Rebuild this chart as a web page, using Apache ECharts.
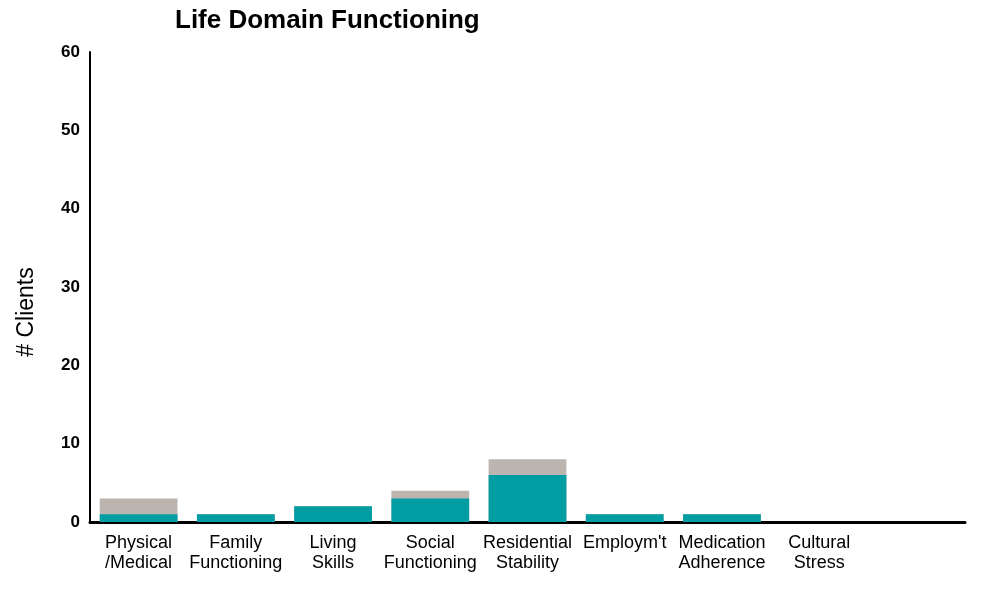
<!DOCTYPE html>
<html><head><meta charset="utf-8">
<script src="https://cdn.jsdelivr.net/npm/echarts@6/dist/echarts.min.js"></script>
<style>html,body{margin:0;padding:0;background:#fff}#c{width:982px;height:589px}</style>
</head><body><div id="c"></div>
<script>
var categories = ["Physical\n/Medical","Family\nFunctioning","Living\nSkills","Social\nFunctioning","Residential\nStability","Employm't","Medication\nAdherence","Cultural\nStress",""];
var totalValues = [3,1,2,4,8,1,1,0,null];
var tealValues = [1,1,2,3,6,1,1,0,null];
var yTicks = {min:0,max:60,interval:10};

var chart = echarts.init(document.getElementById('c'));
chart.setOption({
  animation:false,
  title:{text:'Life Domain Functioning',left:170,top:3,textStyle:{fontFamily:'Liberation Sans',fontWeight:'bold',fontSize:26,color:'#000'}},
  grid:{left:90,top:52,right:17,bottom:67},
  xAxis:{type:'category',data:categories,
    axisLine:{lineStyle:{color:'#000',width:3}},axisTick:{show:false},
    axisLabel:{interval:0,color:'#000',fontFamily:'Liberation Sans',fontSize:18,lineHeight:20,margin:11}},
  yAxis:{type:'value',min:yTicks.min,max:yTicks.max,interval:yTicks.interval,
    name:'# Clients',nameLocation:'middle',nameGap:52,
    nameTextStyle:{fontFamily:'Liberation Sans',fontSize:23,color:'#000',padding:[0,0,0,-50]},
    axisLine:{show:true,lineStyle:{color:'#000',width:2}},axisTick:{show:false},splitLine:{show:false},
    axisLabel:{color:'#000',fontFamily:'Liberation Sans',fontWeight:'bold',fontSize:17,margin:10}},
  series:[
    {type:'bar',data:totalValues,barWidth:'80%',barGap:'-100%',itemStyle:{color:'#BCB4AE'}},
    {type:'bar',data:tealValues,barWidth:'80%',itemStyle:{color:'#009EA3'}}
  ]
});
</script></body></html>
